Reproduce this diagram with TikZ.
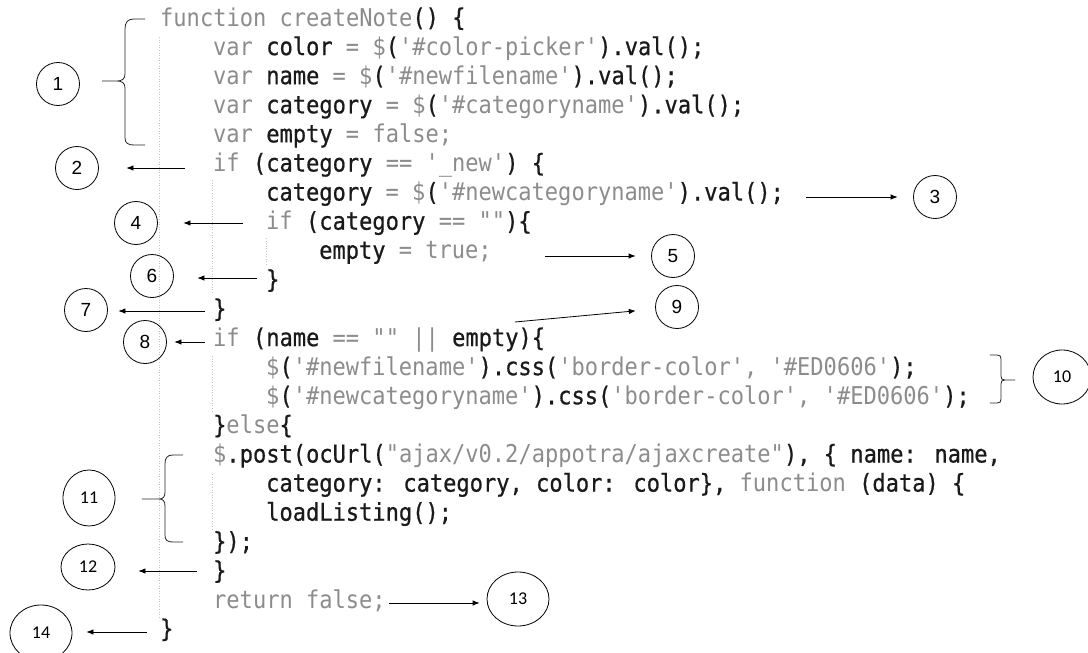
\documentclass[tikz,border=0pt]{standalone}
\usepackage{fontspec}
% narrow-set code face: light for keywords/literals, slightly heavier for identifiers
\setmonofont{DejaVu Sans Mono}[FakeStretch=0.9]
\newfontfamily\codedark{DejaVu Sans Mono}[FakeStretch=0.9, FakeBold=0.7]
\newfontfamily\numfont{Liberation Sans}
\newfontfamily\ovalfont{Carlito}
\usetikzlibrary{arrows.meta,shapes.geometric}
\definecolor{codegray}{HTML}{8C8C8C}
\definecolor{codeink}{HTML}{1A1A1A}
\definecolor{guidegray}{HTML}{C4C4C4}
\newcommand\gr[1]{{\ttfamily\color{codegray}#1}}

\begin{document}
\begin{tikzpicture}[x=1pt,y=-1pt,
  code/.style={anchor=base west, inner sep=0pt, text=codeink,
               font=\codedark\fontsize{24.5}{28}\selectfont},
  numcirc/.style={draw=black, line width=0.8pt, shape=ellipse, inner sep=0pt,
                  minimum width=43pt, minimum height=43pt, text=black,
                  font=\numfont\fontsize{19}{20}\selectfont},
  numoval/.style={draw=black, line width=0.8pt, shape=ellipse, inner sep=0pt,
                  text=black, font=\ovalfont\fontsize{18}{19}\selectfont},
  arr/.style={-{Latex[length=7pt,width=5.5pt]}, line width=0.8pt, draw=black},
  bracepath/.style={line width=0.8pt, draw=black!85},
  indentguide/.style={draw=guidegray, line width=0.8pt, dash pattern=on 1pt off 1.6pt}
]
\useasboundingbox[fill=white] (0,0) rectangle (1088,653);

% indentation guides
\draw[indentguide] (159,37) -- (159,617);
\draw[indentguide] (212,180) -- (212,292);
\draw[indentguide] (212,356) -- (212,412);
\draw[indentguide] (212,474) -- (212,530);
\draw[indentguide] (266,238) -- (266,266);

% source listing
\node[code] (l1)  at (160, 26.0) {\gr{function createNote}() \{};
\node[code] (l2)  at (213, 55.1) {\gr{var} color \gr{= \$}(\gr{'\#color-picker'}).val();};
\node[code] (l3)  at (213, 84.2) {\gr{var} name \gr{= \$}(\gr{'\#newfilename'}).val();};
\node[code] (l4)  at (213,113.3) {\gr{var} category \gr{= \$}(\gr{'\#categoryname'}).val();};
\node[code] (l5)  at (213,142.4) {\gr{var} empty \gr{= false;}};
\node[code] (l6)  at (213,171.5) {\gr{if} (category \gr{== '\_new'}) \{};
\node[code] (l7)  at (266,200.6) {category \gr{= \$}(\gr{'\#newcategoryname'}).val();};
\node[code] (l8)  at (266,229.7) {\gr{if} (category \gr{== ""})\{};
\node[code] (l9)  at (319,258.8) {empty \gr{= true;}};
\node[code] (l10) at (266,287.9) {\}};
\node[code] (l11) at (213,317.0) {\}};
\node[code] (l12) at (213,346.1) {\gr{if} (name \gr{== "" ||} empty)\{};
\node[code] (l13) at (266,375.2) {\gr{\$}(\gr{'\#newfilename'}).css(\gr{'border-color', '\#ED0606'});};
\node[code] (l14) at (266,404.3) {\gr{\$}(\gr{'\#newcategoryname'}).css(\gr{'border-color', '\#ED0606'});};
\node[code] (l15) at (213,433.4) {\}\gr{else}\{};
\node[code] (l16) at (213,462.5) {\gr{\$}.post(ocUrl(\gr{"ajax/v0.2/appotra/ajaxcreate"}), \{ name: name,};
\node[code] (l17) at (266,491.6) {category: category, color: color\}, \gr{function} (data) \{};
\node[code] (l18) at (266,520.7) {loadListing();};
\node[code] (l19) at (213,549.8) {\});};
\node[code] (l20) at (213,578.9) {\}};
\node[code] (l21) at (213,608.0) {\gr{return false;}};
\node[code] (l22) at (160,637.1) {\}};

% numbered markers
\node[numcirc] (c1) at (58,84)   {1};
\node[numcirc] (c2) at (77,168)  {2};
\node[numcirc] (c3) at (935,197) {3};
\node[numcirc] (c4) at (136,223) {4};
\node[numcirc] (c5) at (673,256) {5};
\node[numcirc] (c6) at (152,276) {6};
\node[numcirc] (c7) at (86,310)  {7};
\node[numcirc] (c8) at (145,342) {8};
\node[numcirc] (c9) at (677,307) {9};
\node[numoval, minimum width=58pt, minimum height=54pt] (c10) at (1062,377) {10};
\node[numoval, minimum width=52pt, minimum height=56pt] (c11) at (89,498)   {11};
\node[numoval, minimum width=54pt, minimum height=46pt] (c12) at (88,567)   {12};
\node[numoval, minimum width=62pt, minimum height=54pt] (c13) at (518,599)  {13};
\node[numoval, minimum width=62pt, minimum height=56pt] (c14) at (41,633)   {14};

% arrow tails next to the code
\coordinate (t2)  at (185,168);
\coordinate (t3)  at (806,197);
\coordinate (t4)  at (243,223);
\coordinate (t5)  at (545,256);
\coordinate (t6)  at (257,278);
\coordinate (t7)  at (205,311);
\coordinate (t8)  at (205,342);
\coordinate (t9)  at (515,322);
\coordinate (t12) at (197,571);
\coordinate (t13) at (389,603);
\coordinate (t14) at (147,632);

\draw[arr, shorten >=27.5pt] (t2)  -- (t2 -| c2.east);
\draw[arr, shorten >=15.5pt] (t3)  -- (t3 -| c3.west);
\draw[arr, shorten >=25.5pt] (t4)  -- (t4 -| c4.east);
\draw[arr, shorten >=15.5pt] (t5)  -- (t5 -| c5.west);
\draw[arr, shorten >=23.5pt] (t6)  -- (t6 -| c6.east);
\draw[arr, shorten >=10.5pt] (t7)  -- (t7 -| c7.east);
\draw[arr, shorten >=7.5pt]  (t8)  -- (t8 -| c8.east);
\draw[arr, shorten >=19.5pt] (t9)  -- (c9);
\draw[arr, shorten >=23pt]   (t12) -- (t12 -| c12.east);
\draw[arr, shorten >=7pt]    (t13) -- (t13 -| c13.west);
\draw[arr, shorten >=14pt]   (t14) -- (t14 -| c14.east);

% brace for marker 1
\draw[bracepath] (145,19) -- (134,19) .. controls (128,19) and (125,22) .. (125,29)
  -- (125,74) .. controls (125,79) and (122,81) .. (117,81) -- (102,81)
  (117,81) .. controls (122,81) and (125,83) .. (125,88)
  -- (125,138) .. controls (125,143) and (128,145) .. (134,145) -- (145,145);

% brace for marker 10
\draw[bracepath] (990,355) -- (997,355) .. controls (1000,355) and (1001,356) .. (1001,359)
  -- (1001,376) .. controls (1001,379) and (1002,380) .. (1005,380) -- (1015,380)
  (1005,380) .. controls (1002,380) and (1001,381) .. (1001,384)
  -- (1001,399) .. controls (1001,402) and (1000,403) .. (997,403) -- (990,403);

% brace for marker 11
\draw[bracepath] (183,455) -- (173,455) .. controls (167,455) and (165,458) .. (165,464)
  -- (165,492) .. controls (165,497) and (163,499) .. (159,499) -- (142,499)
  (159,499) .. controls (163,499) and (165,501) .. (165,506)
  -- (165,535) .. controls (165,540) and (167,542) .. (173,542) -- (183,542);
\end{tikzpicture}
\end{document}
